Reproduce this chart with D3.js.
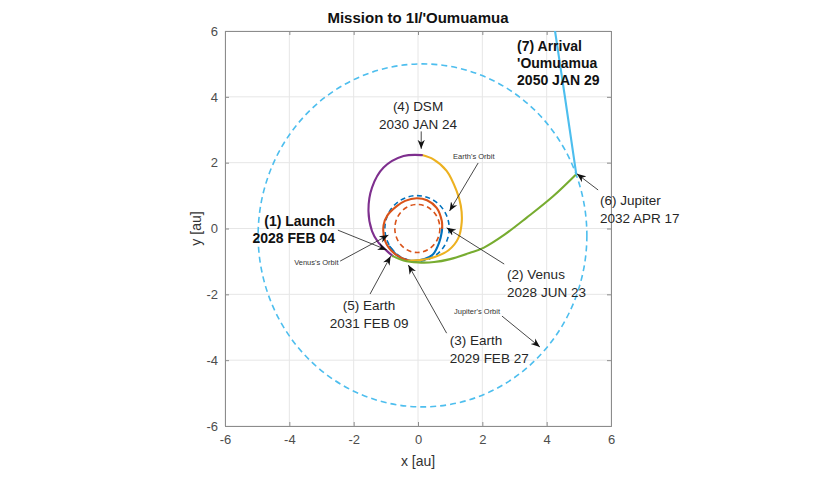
<!DOCTYPE html>
<html><head><meta charset="utf-8">
<script src="https://cdn.jsdelivr.net/npm/d3@7"></script>
<style>
body{margin:0;background:#fff;}
svg text{font-family:"Liberation Sans",Arial,Helvetica,sans-serif;}
</style></head>
<body><svg id="c" width="830" height="481"></svg>
<script>
// ---- data ----
const title = "Mission to 1I/'Oumuamua";
const xLabel = "x [au]", yLabel = "y [au]";
const xTicks = [-6,-4,-2,0,2,4,6];
const yTicks = [-6,-4,-2,0,2,4,6];

// planetary orbits: centre and semi-axes in au
const orbitNames = ["Jupiter's Orbit","Earth's Orbit","Venus's Orbit"];
const orbitCx = [0.14, -0.03, -0.02];
const orbitCy = [-0.21, 0.0, 0.0];
const orbitRx = [5.11, 1.0, 0.70];
const orbitRy = [5.21, 1.0, 0.73];

// trajectory legs (x,y in au)
const leg1 = [[-0.88,-0.55],[-0.62,-0.84],[-0.22,-0.98],[0.2,-0.93],[0.47,-0.78],[0.66,-0.42],[0.74,-0.1],[0.75,0.02]]; // Launch -> Venus
const leg2 = [[0.75,0.02],[0.74,0.23],[0.58,0.63],[0.28,0.86],[-0.04,0.92],[-0.4,0.84],[-0.66,0.68],[-0.95,0.4],[-1.07,0.1],[-1.02,-0.38],[-0.76,-0.74],[-0.5,-0.9],[-0.3,-0.97]]; // Venus -> Earth
const leg3 = [[-0.3,-0.97],[0.06,-0.96],[0.5,-0.87],[0.95,-0.66],[1.25,-0.3],[1.36,0.2],[1.33,0.7],[1.2,1.14],[0.89,1.75],[0.48,2.1],[0.12,2.23]]; // Earth -> DSM
const leg4 = [[0.12,2.23],[-0.45,2.2],[-1.07,1.85],[-1.43,1.24],[-1.54,0.53],[-1.43,-0.08],[-1.23,-0.43],[-0.97,-0.68],[-0.78,-0.84]]; // DSM -> Earth
const leg5 = [[-0.78,-0.84],[-0.45,-0.97],[0.0,-1.03],[0.5,-1.02],[1.0,-0.93],[1.62,-0.74],[2.05,-0.58],[2.7,-0.18],[3.38,0.33],[4.2,0.98],[4.92,1.65]]; // Earth -> Jupiter
const leg6 = [[4.92,1.65],[4.57,3.98],[4.26,6.0],[4.2,6.4]]; // Jupiter -> 'Oumuamua
const legs = [leg1,leg2,leg3,leg4,leg5,leg6];
const legColors = ["#0072BD","#D95319","#EDB120","#7E2F8E","#77AC30","#4DBEEE"];
const orbitColors = ["#4DBEEE","#0072BD","#D95319"];

// annotations: text lines, anchor (au), alignment, weight, arrow tail/tip (au)
const annText = [
  ["(7) Arrival","'Oumuamua","2050 JAN 29"],
  ["(4) DSM","2030 JAN 24"],
  ["Earth's Orbit"],
  ["(1) Launch","2028 FEB 04"],
  ["Venus's Orbit"],
  ["(2) Venus","2028 JUN 23"],
  ["(5) Earth","2031 FEB 09"],
  ["(3) Earth","2029 FEB 27"],
  ["Jupiter's Orbit"],
  ["(6) Jupiter","2032 APR 17"]
];
const annAt = [[3.08,5.39],[0,3.57],[1.09,2.11],[-2.58,0.08],[-3.85,-1.11],[2.77,-1.54],[-1.52,-2.48],[0.99,-3.54],[1.12,-2.61],[5.66,0.71]];
const annAlign = ["start","middle","start","end","start","start","middle","start","start","start"];
const annBold = [true,false,false,true,false,false,false,false,false,false];
const annSmall = [false,false,true,false,true,false,false,false,true,false];
const annArrow = [null,[[0.1,2.95],[0.1,2.42]],[[1.87,1.99],[0.98,0.53]],[[-2.49,-0.05],[-0.97,-0.65]],[[-2.42,-0.99],[-0.92,-0.2]],[[2.68,-1.08],[0.89,0.02]],[[-1.49,-1.99],[-0.85,-0.84]],[[0.89,-3.18],[-0.3,-1.11]],[[2.61,-2.66],[3.79,-3.6]],[[5.6,1.17],[4.94,1.66]]];

// ---- drawing ----
const svg = d3.select("#c");
const L=225,R=611,T=31,B=426;
const x = d3.scaleLinear().domain([-6,6]).range([L,R]);
const y = d3.scaleLinear().domain([-6,6]).range([B,T]);

const defs = svg.append("defs");
defs.append("clipPath").attr("id","clip").append("rect").attr("x",L).attr("y",T).attr("width",R-L).attr("height",B-T);
defs.append("marker").attr("id","ah").attr("viewBox","0 0 10 10").attr("refX",10).attr("refY",5)
  .attr("markerWidth",9).attr("markerHeight",9).attr("markerUnits","userSpaceOnUse").attr("orient","auto")
  .append("path").attr("d","M0,1 L10,5 L0,9 L3,5 Z").attr("fill","#111");

// grid
const grid = svg.append("g").attr("stroke","#e6e6e6").attr("stroke-width",1);
xTicks.forEach(t=>grid.append("line").attr("x1",x(t)).attr("x2",x(t)).attr("y1",T).attr("y2",B));
yTicks.forEach(t=>grid.append("line").attr("y1",y(t)).attr("y2",y(t)).attr("x1",L).attr("x2",R));

// axes
const ax = svg.append("g").attr("transform",`translate(0,${B})`).call(d3.axisBottom(x).tickValues(xTicks).tickSize(-4).tickPadding(9).tickFormat(d3.format("d")));
const ay = svg.append("g").attr("transform",`translate(${L},0)`).call(d3.axisLeft(y).tickValues(yTicks).tickSize(-4).tickPadding(7).tickFormat(d3.format("d")));
const at = svg.append("g").attr("transform",`translate(0,${T})`).call(d3.axisTop(x).tickValues(xTicks).tickSize(-4).tickFormat(""));
const ar = svg.append("g").attr("transform",`translate(${R},0)`).call(d3.axisRight(y).tickValues(yTicks).tickSize(-4).tickFormat(""));
[ax,ay,at,ar].forEach(g=>{
  g.select(".domain").attr("stroke","#8c8c8c");
  g.selectAll(".tick line").attr("stroke","#8c8c8c");
  g.selectAll("text").attr("fill","#4d4d4d").attr("font-size",13).attr("font-family","Liberation Sans,Arial,sans-serif");
});
ax.selectAll("text").text(d=>d<0?"-"+Math.abs(d):d);
ay.selectAll("text").text(d=>d<0?"-"+Math.abs(d):d);

const plot = svg.append("g").attr("clip-path","url(#clip)");
// orbits
orbitNames.forEach((n,i)=>{
  plot.append("ellipse").attr("cx",x(orbitCx[i])).attr("cy",y(orbitCy[i]))
    .attr("rx",x(orbitRx[i])-x(0)).attr("ry",y(0)-y(orbitRy[i]))
    .attr("fill","none").attr("stroke",orbitColors[i]).attr("stroke-width",1.6)
    .attr("stroke-dasharray",i===0?"6,4":"5,3.5");
});
// legs
const line = d3.line().x(d=>x(d[0])).y(d=>y(d[1])).curve(d3.curveCatmullRom.alpha(0.5));
legs.forEach((lg,i)=>{
  plot.append("path").attr("d",line(lg)).attr("fill","none").attr("stroke",legColors[i]).attr("stroke-width",2.1).attr("stroke-linecap","round");
});

// annotations
annText.forEach((lines,i)=>{
  const a = annArrow[i];
  if(a){
    svg.append("line").attr("x1",x(a[0][0])).attr("y1",y(a[0][1])).attr("x2",x(a[1][0])).attr("y2",y(a[1][1]))
      .attr("stroke","#333").attr("stroke-width",0.9).attr("marker-end","url(#ah)");
  }
  const fs = annSmall[i]?7.5:(annBold[i]?14:13.5);
  const lh = annBold[i]?17:18;
  const t = svg.append("text").attr("x",x(annAt[i][0])).attr("y",y(annAt[i][1]))
    .attr("text-anchor",annAlign[i]).attr("font-size",fs).attr("font-weight",annBold[i]?"bold":"normal")
    .attr("fill",annSmall[i]?"#333":(annBold[i]?"#111":"#262626"));
  lines.forEach((s,j)=>t.append("tspan").attr("x",x(annAt[i][0])).attr("dy",j?lh:0).text(s));
});

// titles
svg.append("text").attr("x",(L+R)/2).attr("y",23).attr("text-anchor","middle").attr("font-size",15).attr("font-weight","bold").attr("fill","#111").text(title);
svg.append("text").attr("x",(L+R)/2).attr("y",466).attr("text-anchor","middle").attr("font-size",14).attr("fill","#333").text(xLabel);
svg.append("text").attr("transform",`translate(201,${(T+B)/2}) rotate(-90)`).attr("text-anchor","middle").attr("font-size",14).attr("fill","#333").text(yLabel);
</script></body></html>
